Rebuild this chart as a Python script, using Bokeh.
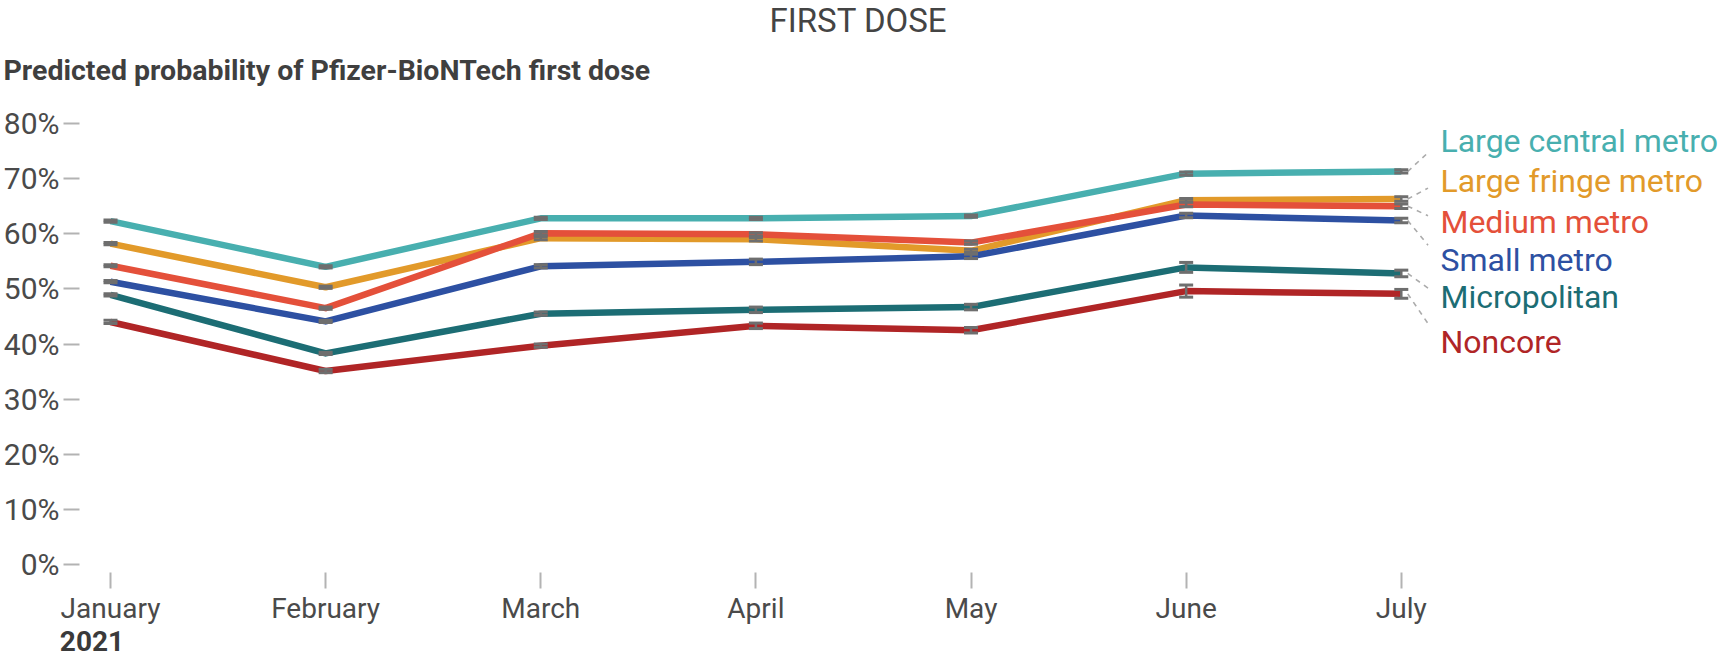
from bokeh.plotting import figure
from bokeh.models import (ColumnDataSource, Range1d, FixedTicker, PrintfTickFormatter,
                          LabelSet, Whisker, TeeHead, Title, LinearAxis)
from bokeh.core.properties import value, field
from bokeh.embed import file_html
from bokeh.resources import INLINE

# ---------------- data ----------------
months = ["January", "February", "March", "April", "May", "June", "July"]
year_label = "2021"
title_text = "FIRST DOSE"
subtitle_text = "Predicted probability of Pfizer-BioNTech first dose"

series_names = ["Large central metro", "Large fringe metro", "Medium metro",
                "Small metro", "Micropolitan", "Noncore"]
series_colors = ["#48AFAF", "#E29A2A", "#E4503A", "#2D50A2", "#1C6D74", "#B02526"]

large_central = [62.3, 54.0, 62.8, 62.8, 63.2, 70.9, 71.3]
large_fringe = [58.2, 50.3, 59.2, 59.0, 56.9, 66.1, 66.3]
medium_metro = [54.2, 46.5, 60.1, 59.9, 58.4, 65.3, 65.0]
small_metro = [51.3, 44.1, 54.1, 54.9, 55.9, 63.3, 62.4]
micropolitan = [48.9, 38.3, 45.5, 46.2, 46.7, 53.9, 52.8]
noncore = [44.0, 35.1, 39.7, 43.3, 42.5, 49.6, 49.1]

err_large_central = [0.2, 0.2, 0.2, 0.2, 0.2, 0.3, 0.3]
err_large_fringe = [0.2, 0.2, 0.3, 0.3, 0.3, 0.3, 0.4]
err_medium_metro = [0.2, 0.2, 0.3, 0.3, 0.3, 0.4, 0.4]
err_small_metro = [0.2, 0.2, 0.3, 0.5, 0.4, 0.4, 0.4]
err_micropolitan = [0.2, 0.2, 0.3, 0.5, 0.5, 0.9, 0.6]
err_noncore = [0.3, 0.3, 0.3, 0.5, 0.5, 1.1, 0.8]

series_values = [large_central, large_fringe, medium_metro, small_metro, micropolitan, noncore]
series_errors = [err_large_central, err_large_fringe, err_medium_metro,
                 err_small_metro, err_micropolitan, err_noncore]

y_ticks = [0, 10, 20, 30, 40, 50, 60, 70, 80]

# label layout (percent units for the end labels)
label_y = [76.8, 69.5, 62.2, 55.2, 48.5, 40.4]
label_x = 6.182

# ---------------- figure ----------------
W, H = 1724, 661
FONT = "Roboto"
TICK_COLOR = "#b3b3b3"

p = figure(width=W, height=H, output_backend="svg", toolbar_location=None,
           title=title_text,
           x_range=Range1d(-0.1441, 7.5024), y_range=Range1d(-1.451, 84.90),
           min_border_left=79, min_border_right=0, min_border_top=96,
           min_border_bottom=89)
p.outline_line_color = None
p.background_fill_color = "white"
p.border_fill_color = "white"
p.xgrid.visible = False
p.ygrid.visible = False

# main title (outermost) and subtitle (closest to the frame)
p.title.align = "left"
p.title.vertical_align = "top"
p.title.offset = 690
p.title.text_font = FONT
p.title.text_font_size = "33px"
p.title.text_font_style = "normal"
p.title.text_color = "#444444"
p.title.standoff = 0

sub_title = Title(text=subtitle_text, align="left", offset=-76, text_font=FONT,
                  text_font_size="28.5px", text_font_style="bold",
                  text_color="#3f3f3f", standoff=20)
p.add_layout(sub_title, "above")

# y axis
ya = p.yaxis[0]
ya.ticker = FixedTicker(ticks=y_ticks)
ya.formatter = PrintfTickFormatter(format="%d%%")
ya.axis_line_color = None
ya.major_tick_in = 0
ya.major_tick_out = 16
ya.major_tick_line_color = TICK_COLOR
ya.major_tick_line_width = 2
ya.minor_tick_line_color = None
ya.major_label_standoff = 4
ya.major_label_text_font = FONT
ya.major_label_text_font_size = "30px"
ya.major_label_text_color = "#4a4a4a"

# x axis (months)
xa = p.xaxis[0]
xa.ticker = FixedTicker(ticks=list(range(len(months))))
xa.major_label_overrides = {i: m for i, m in enumerate(months)}
xa.axis_line_color = None
xa.major_tick_in = 0
xa.major_tick_out = 16
xa.major_tick_line_color = TICK_COLOR
xa.major_tick_line_width = 2
xa.minor_tick_line_color = None
xa.major_label_standoff = 3
xa.major_label_text_font = FONT
xa.major_label_text_font_size = "28px"
xa.major_label_text_color = "#4a4a4a"

# second axis below carrying the year
p.extra_x_ranges = {"year": Range1d(-0.0581, 7.5884)}
year_axis = LinearAxis(x_range_name="year", ticker=FixedTicker(ticks=[0]),
                       major_label_overrides={0: year_label})
year_axis.axis_line_color = None
year_axis.major_tick_in = 0
year_axis.major_tick_out = 0
year_axis.minor_tick_line_color = None
year_axis.major_tick_line_color = None
year_axis.major_label_standoff = 3
year_axis.major_label_text_font = FONT
year_axis.major_label_text_font_size = "28px"
year_axis.major_label_text_font_style = "bold"
year_axis.major_label_text_color = "#3a3a3a"
p.add_layout(year_axis, "below")

xs = list(range(len(months)))

# lines
for vals, col in zip(series_values, series_colors):
    p.line(xs, vals, line_color=col, line_width=6.5, line_join="round")

# error bars
for vals, errs in zip(series_values, series_errors):
    src = ColumnDataSource(dict(x=xs,
                                lower=[v - e for v, e in zip(vals, errs)],
                                upper=[v + e for v, e in zip(vals, errs)]))
    w = Whisker(source=src, base="x", lower="lower", upper="upper",
                line_color="#6e6e6e", line_width=2.5, level="annotation",
                upper_head=TeeHead(size=14, line_color="#6e6e6e", line_width=3),
                lower_head=TeeHead(size=14, line_color="#6e6e6e", line_width=3))
    p.add_layout(w)

# connectors from line ends to labels
last = len(months) - 1
x0 = [last + 0.03] * len(series_names)
y0 = [v[last] for v in series_values]
frac = 0.62
x1 = [a + frac * (label_x - a) for a in x0]
y1 = [a + frac * (b - a) for a, b in zip(y0, label_y)]
p.segment(x0=x0, y0=y0, x1=x1, y1=y1, line_color="#ababab", line_width=1.6,
          line_dash="5 5")

# end labels
lab_src = ColumnDataSource(dict(x=[label_x] * len(series_names), y=label_y,
                                text=series_names, color=series_colors))
p.add_layout(LabelSet(x="x", y="y", text="text", source=lab_src,
                      text_color=field("color"), text_font=value(FONT),
                      text_font_size="32px", text_baseline="middle",
                      text_align="left"))

open("out.html", "w").write(file_html(p, INLINE))
